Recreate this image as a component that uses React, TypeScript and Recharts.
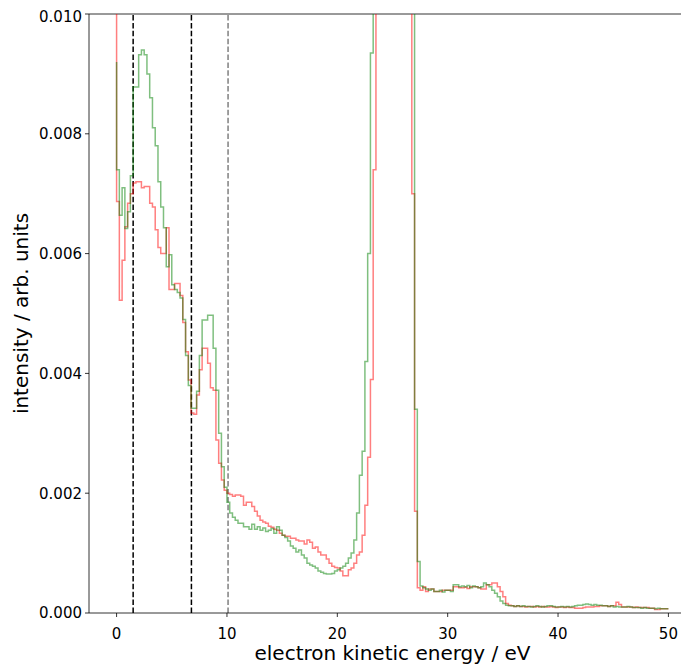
import { LineChart, Line, XAxis, YAxis, ReferenceLine } from "recharts";

// spectrum binned at 0.25 eV; intensities in units of 1e-3
// first value = left edge (x = 0), then one row of four bins per eV
const binWidth = 0.25;

const redCounts = [
  12,
  6.87, 5.22, 5.89, 6.45, // 0
  6.84, 7.0, 7.18, 7.2, // 1
  7.2, 7.1, 7.12, 7.12, // 2
  6.84, 6.78, 6.4, 6.1, // 3
  6.0, 6.0, 6.43, 5.4, // 4
  5.4, 5.5, 5.5, 5.3, // 5
  4.85, 4.36, 3.89, 3.34, // 6
  3.32, 3.64, 4.06, 4.42, // 7
  4.42, 4.17, 3.76, 3.72, // 8
  2.89, 2.5, 2.22, 2.05, // 9
  2.0, 1.98, 1.95, 1.97, // 10
  1.97, 1.95, 1.8, 1.85, // 11
  1.85, 1.78, 1.7, 1.62, // 12
  1.55, 1.52, 1.5, 1.45, // 13
  1.43, 1.4, 1.38, 1.33, // 14
  1.3, 1.28, 1.28, 1.25, // 15
  1.25, 1.22, 1.2, 1.2, // 16
  1.15, 1.22, 1.18, 1.08, // 17
  1.1, 1.02, 0.97, 0.97, // 18
  0.9, 0.83, 0.78, 0.76, // 19
  0.75, 0.7, 0.62, 0.62, // 20
  0.72, 0.75, 0.83, 0.97, // 21
  1.02, 1.3, 1.8, 2.6, // 22
  3.9, 7.4, 12, 12, // 23
  12, 12, 12, 12, // 24
  12, 12, 12, 12, // 25
  12, 12, 12, 7.0, // 26
  1.7, 0.42, 0.38, 0.44, // 27
  0.36, 0.4, 0.4, 0.36, // 28
  0.36, 0.36, 0.38, 0.38, // 29
  0.38, 0.38, 0.44, 0.44, // 30
  0.42, 0.42, 0.43, 0.41, // 31
  0.44, 0.44, 0.44, 0.42, // 32
  0.4, 0.4, 0.47, 0.47, // 33
  0.5, 0.5, 0.44, 0.36, // 34
  0.27, 0.16, 0.13, 0.12, // 35
  0.11, 0.12, 0.11, 0.11, // 36
  0.1, 0.11, 0.11, 0.1, // 37
  0.11, 0.1, 0.11, 0.1, // 38
  0.1, 0.11, 0.1, 0.09, // 39
  0.1, 0.1, 0.09, 0.1, // 40
  0.09, 0.09, 0.08, 0.08, // 41
  0.08, 0.09, 0.1, 0.1, // 42
  0.1, 0.11, 0.11, 0.12, // 43
  0.12, 0.12, 0.11, 0.12, // 44
  0.12, 0.18, 0.14, 0.1, // 45
  0.1, 0.1, 0.1, 0.09, // 46
  0.1, 0.09, 0.09, 0.09, // 47
  0.09, 0.08, 0.08, 0.06, // 48
  0.06, 0.07, 0.07, 0.07, // 49
];

const greenCounts = [
  9.2,
  7.4, 6.64, 7.1, 6.42, // 0
  6.7, 7.3, 8.78, 8.78, // 1
  9.32, 9.4, 9.32, 9.0, // 2
  8.6, 8.1, 7.8, 7.2, // 3
  6.78, 6.43, 5.78, 5.98, // 4
  5.48, 5.4, 5.35, 5.26, // 5
  4.9, 4.3, 3.8, 3.42, // 6
  3.42, 3.7, 4.3, 4.89, // 7
  4.89, 4.97, 4.97, 4.42, // 8
  3.72, 3.0, 2.44, 2.1, // 9
  1.85, 1.67, 1.6, 1.55, // 10
  1.5, 1.5, 1.44, 1.44, // 11
  1.4, 1.48, 1.4, 1.44, // 12
  1.38, 1.42, 1.36, 1.38, // 13
  1.41, 1.33, 1.44, 1.38, // 14
  1.3, 1.26, 1.2, 1.12, // 15
  1.08, 1.02, 1.05, 0.97, // 16
  0.92, 0.83, 0.8, 0.78, // 17
  0.75, 0.7, 0.68, 0.66, // 18
  0.65, 0.65, 0.66, 0.7, // 19
  0.72, 0.75, 0.78, 0.83, // 20
  0.92, 1.0, 1.22, 1.67, // 21
  2.3, 2.7, 4.2, 6.0, // 22
  9.35, 12, 12, 12, // 23
  12, 12, 12, 12, // 24
  12, 12, 12, 12, // 25
  12, 12, 12, 12, // 26
  3.4, 0.86, 0.45, 0.42, // 27
  0.4, 0.38, 0.4, 0.36, // 28
  0.36, 0.38, 0.35, 0.38, // 29
  0.38, 0.36, 0.47, 0.47, // 30
  0.44, 0.45, 0.44, 0.46, // 31
  0.42, 0.45, 0.44, 0.42, // 32
  0.44, 0.5, 0.47, 0.44, // 33
  0.38, 0.33, 0.27, 0.2, // 34
  0.16, 0.13, 0.12, 0.12, // 35
  0.11, 0.12, 0.11, 0.12, // 36
  0.11, 0.11, 0.1, 0.11, // 37
  0.12, 0.11, 0.1, 0.11, // 38
  0.12, 0.12, 0.11, 0.1, // 39
  0.1, 0.11, 0.1, 0.11, // 40
  0.1, 0.11, 0.12, 0.13, // 41
  0.13, 0.14, 0.15, 0.14, // 42
  0.13, 0.14, 0.13, 0.13, // 43
  0.12, 0.12, 0.11, 0.12, // 44
  0.1, 0.11, 0.1, 0.1, // 45
  0.1, 0.11, 0.1, 0.09, // 46
  0.09, 0.09, 0.08, 0.09, // 47
  0.08, 0.08, 0.08, 0.07, // 48
  0.08, 0.07, 0.07, 0.07, // 49
];

// dashed marker energies (eV)
const markers = [1.5, 6.78, 10.1];
const markerColors = ["black", "black", "grey"];

const xTicks = [0, 10, 20, 30, 40, 50];
const yTicks = [0, 0.002, 0.004, 0.006, 0.008, 0.01];

const rows = redCounts.map((v, i) => ({
  e: i * binWidth,
  red: v * 1e-3,
  green: greenCounts[i] * 1e-3,
}));

const font = "DejaVu Sans, sans-serif";

export default function App() {
  return (
    <div style={{ width: 681, height: 660, overflow: "hidden", fontFamily: font }}>
      <LineChart
        width={700}
        height={660}
        data={rows}
        margin={{ top: 6, right: 12, bottom: 5, left: 0 }}
      >
        <XAxis
          dataKey="e"
          type="number"
          domain={[-2.5, 52.5]}
          allowDataOverflow
          ticks={xTicks}
          height={50}
          stroke="#000"
          strokeWidth={0.8}
          tickSize={4}
          tickMargin={11}
          tick={{ fill: "#000", fontSize: 15, fontFamily: font }}
          label={{
            value: "electron kinetic energy / eV",
            position: "insideBottom",
            offset: 3,
            style: { fill: "#000", fontSize: 20, fontFamily: font },
          }}
        />
        <YAxis
          type="number"
          domain={[0, 0.01]}
          allowDataOverflow
          ticks={yTicks}
          width={81}
          stroke="#000"
          strokeWidth={0.8}
          tickSize={4}
          tickMargin={3}
          tickFormatter={(v: number) => v.toFixed(3)}
          tick={{ fill: "#000", fontSize: 15, fontFamily: font }}
          label={{
            value: "intensity / arb. units",
            angle: -90,
            position: "insideLeft",
            offset: 13,
            style: { fill: "#000", fontSize: 20, fontFamily: font, textAnchor: "middle" },
          }}
        />
        <ReferenceLine y={0.01} stroke="#000" strokeWidth={0.8} />
        {markers.map((m, i) => (
          <ReferenceLine
            key={m}
            x={m}
            stroke={markerColors[i]}
            strokeWidth={1.5}
            strokeDasharray="5.5 2.4"
          />
        ))}
        <Line
          dataKey="red"
          type="stepBefore"
          stroke="red"
          strokeOpacity={0.5}
          strokeWidth={1.5}
          dot={false}
          isAnimationActive={false}
        />
        <Line
          dataKey="green"
          type="stepBefore"
          stroke="green"
          strokeOpacity={0.5}
          strokeWidth={1.5}
          dot={false}
          isAnimationActive={false}
        />
      </LineChart>
    </div>
  );
}
